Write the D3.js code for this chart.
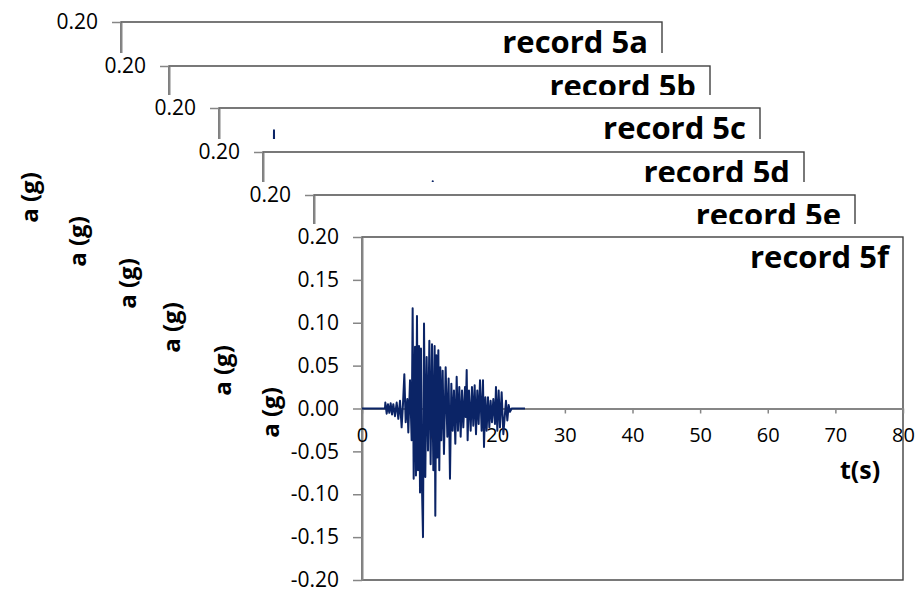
<!DOCTYPE html>
<html>
<head>
<meta charset="utf-8">
<script src="https://d3js.org/d3.v7.min.js"></script>
<style>
  body { margin: 0; background: #fff; }
  text { font-family: 'Open Sans', sans-serif; }
</style>
</head>
<body>
<div id="chart"></div>
<script>
// Stacked accelerograms, record 5a .. 5f

const recordNames = ['record 5a', 'record 5b', 'record 5c', 'record 5d', 'record 5e', 'record 5f'];
const yTicks = [0.20, 0.15, 0.10, 0.05, 0.00, -0.05, -0.10, -0.15, -0.20];
const xTicks = [0, 10, 20, 30, 40, 50, 60, 70, 80];

// only the tips that show above the next panel can be read for 5a-5e
const t5a = [];
const a5a = [];
const t5b = [];
const a5b = [];
const t5c = [0, 8.0, 8.13, 8.3, 24];
const a5c = [0, 0, 0.174, 0, 0];
const t5d = [0, 25.0, 25.1, 25.2, 30];
const a5d = [0, 0, 0.166, 0, 0];
const t5e = [];
const a5e = [];

// record 5f
const t5f = [0, 3.40, 3.45, 3.65, 3.84, 4.04, 4.24, 4.44, 4.63, 4.88, 5.13, 5.37, 5.62, 5.86, 6.06,
  6.26, 6.46, 6.70, 6.85, 7.10, 7.34, 7.49, 7.64, 7.84, 7.98, 8.13, 8.28, 8.43, 8.58, 8.72, 8.87,
  9.02, 9.17, 9.36, 9.56, 9.76, 9.96, 10.15, 10.35, 10.55, 10.74, 10.84, 10.99, 11.14, 11.29, 11.43,
  11.58, 11.73, 11.93, 12.12, 12.37, 12.62, 12.81, 13.01, 13.21, 13.41, 13.60, 13.80, 14.00, 14.19,
  14.39, 14.59, 14.79, 14.98, 15.23, 15.33, 15.48, 15.62, 15.82, 16.07, 16.26, 16.46, 16.66, 16.86,
  17.05, 17.25, 17.45, 17.69, 17.89, 18.04, 18.24, 18.43, 18.63, 18.83, 19.02, 19.22, 19.42, 19.66,
  19.81, 20.01, 20.21, 20.40, 20.65, 20.90, 21.29, 21.49, 21.69, 21.88, 22.13, 24.1];
const a5f = [0, 0, 0.007, -0.006, 0.005, -0.005, 0.006, -0.007, 0.005, -0.009, 0.007, -0.012, 0.009, -0.022, 0.005,
  0.040, -0.016, 0.011, -0.028, 0.033, -0.037, 0.117, -0.082, 0.072, -0.078, 0.108, -0.072, 0.073, -0.098, 0.070, -0.092,
  -0.150, 0.099, -0.080, 0.060, -0.049, 0.079, -0.065, 0.075, -0.072, 0.073, -0.125, 0.062, -0.057, 0.068, -0.072,
  0.048, -0.037, 0.044, -0.053, 0.048, -0.033, 0.035, -0.082, 0.029, -0.026, 0.021, -0.041, 0.037, -0.026,
  0.025, -0.033, 0.021, -0.022, 0.025, -0.010, 0.045, -0.037, 0.021, -0.026, 0.025, -0.020, 0.027, -0.030,
  0.021, -0.018, 0.033, -0.026, 0.033, -0.045, 0.013, -0.026, 0.013, -0.022, 0.009, -0.016, 0.011, -0.018,
  0.025, -0.026, 0.021, -0.022, 0.019, -0.030, 0.009, -0.014, 0.004, -0.004, 0, 0];

const series = [[t5a, a5a], [t5b, a5b], [t5c, a5c], [t5d, a5d], [t5e, a5e], [t5f, a5f]];

// layout: top-left corner of each plot area, back to front
const panelX = [121, 169, 219, 263, 314, 362];
const panelY = [22, 66, 108, 152, 195, 237];
const plotW = 541;
const plotH = 343;

const width = 915;
const height = 589;

const svg = d3.select('#chart')
  .append('svg')
  .attr('width', width)
  .attr('height', height)
  .style('background-color', '#fff');

const x = d3.scaleLinear().domain([0, 80]).range([0, plotW]);
const y = d3.scaleLinear().domain([-0.2, 0.2]).range([plotH, 0]);

const fmt = d => d3.format('.2f')(d).replace('\u2212', '-');

const line = d3.line()
  .x(d => x(d[0]))
  .y(d => y(d[1]));

const last = recordNames.length - 1;

recordNames.forEach((name, i) => {
  const front = i === last;
  const g = svg.append('g')
    .attr('transform', `translate(${panelX[i]},${panelY[i]})`);

  // white chart area hides the panels behind
  g.append('rect')
    .attr('x', -120)
    .attr('y', -13)
    .attr('width', plotW + 140)
    .attr('height', plotH + 80)
    .style('fill', '#fff');

  // plot frame
  g.append('rect')
    .attr('width', plotW)
    .attr('height', plotH)
    .style('fill', 'none')
    .style('stroke', '#404040')
    .style('stroke-width', 1.4);

  // y axis (panels behind only show their top label)
  const yAxis = g.append('g')
    .call(d3.axisLeft(y)
      .tickValues(front ? yTicks : yTicks.slice(0, 1))
      .tickFormat(fmt).tickSize(9).tickSizeOuter(0).tickPadding(14));
  yAxis.select('.domain').style('stroke', '#868686').style('stroke-width', 2);
  yAxis.selectAll('.tick line').style('stroke', '#868686').style('stroke-width', 1.5);
  yAxis.selectAll('.tick text')
    .style('font-family', "'Open Sans', sans-serif")
    .style('font-size', '21px')
    .style('fill', '#000');

  // x axis on the zero line
  const xAxis = g.append('g')
    .attr('transform', `translate(0,${y(0)})`)
    .call(d3.axisBottom(x).tickValues(xTicks).tickSize(5).tickSizeOuter(0).tickPadding(14));
  xAxis.select('.domain').style('stroke', '#868686').style('stroke-width', 2);
  xAxis.selectAll('.tick line').style('stroke', '#868686').style('stroke-width', 1.5);
  if (front) {
    xAxis.selectAll('.tick text')
      .style('font-family', "'Open Sans', sans-serif")
      .style('font-size', '20px')
      .style('fill', '#000');
  } else {
    xAxis.selectAll('.tick text').remove();
  }

  // record trace
  const [tt, aa] = series[i];
  if (tt.length) {
    g.append('path')
      .datum(tt.map((t, k) => [t, aa[k]]))
      .attr('d', line)
      .style('fill', 'none')
      .style('stroke', '#0b2466')
      .style('stroke-width', 2)
      .style('stroke-linejoin', 'round');
  }

  // title
  g.append('text')
    .attr('x', plotW - 14)
    .attr('y', 31)
    .attr('text-anchor', 'end')
    .style('font-size', '31px')
    .style('font-weight', 'bold')
    .style('fill', '#000')
    .text(name);

  // axis titles
  g.append('text')
    .attr('transform', `translate(-93,${plotH / 2 + 4}) rotate(-90)`)
    .attr('text-anchor', 'middle')
    .attr('dominant-baseline', 'central')
    .style('font-size', '24px')
    .style('font-weight', 'bold')
    .style('fill', '#000')
    .text('a (g)');

  if (front) {
    g.append('text')
      .attr('x', plotW - 43)
      .attr('y', y(0) + 70)
      .attr('text-anchor', 'middle')
      .style('font-size', '25px')
      .style('font-weight', 'bold')
      .style('fill', '#000')
      .text('t(s)');
  }
});
</script>
</body>
</html>
